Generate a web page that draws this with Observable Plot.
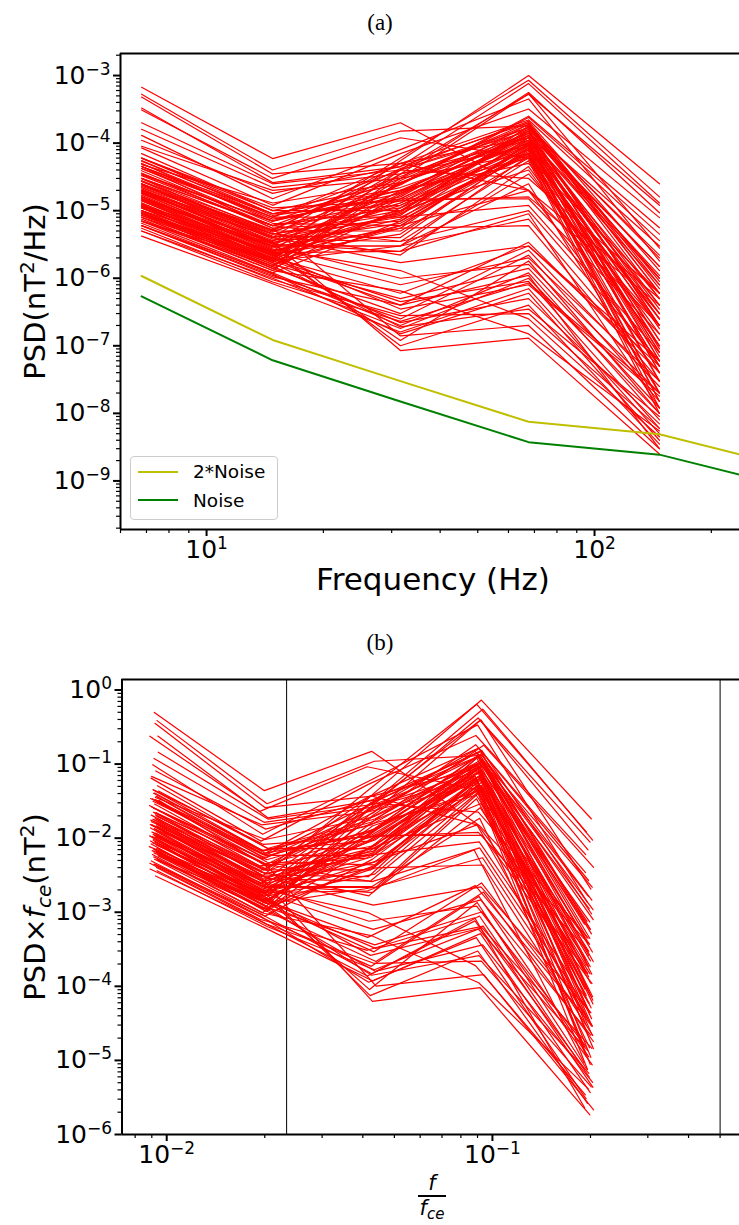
<!DOCTYPE html>
<html>
<head>
<meta charset="utf-8">
<script src="https://cdn.jsdelivr.net/npm/d3@7"></script>
<script src="https://cdn.jsdelivr.net/npm/@observablehq/plot@0.6"></script>
<style>
  html, body { margin: 0; padding: 0; background: #fff; }
  #wrap { position: relative; width: 739px; height: 1225px; overflow: hidden; background: #fff; font-family: "DejaVu Sans", sans-serif; }
  #wrap svg { position: absolute; left: 0; }
  .title { position: absolute; font-family: "Liberation Serif", "DejaVu Serif", serif; font-size: 23px; line-height: 1; transform: translate(-50%, -50%); white-space: nowrap; }
  .abs { position: absolute; white-space: nowrap; line-height: 1; }
</style>
</head>
<body>
<div id="wrap"></div>
<script>
// ---------------- data ----------------
// band centre frequencies (Hz)
const freqs = [6.8, 14.8, 31.6, 67.6, 147];
// noise floor (Noise); 2*Noise is twice it
const noiseFreqs = [6.8, 14.8, 31.6, 67.6, 147, 320];
const noise = [5.4e-7, 6.1e-8, 1.5e-8, 3.75e-9, 2.45e-9, 8.0e-10];

// PSD spectra (nT^2/Hz) at the five bands, one row per event
const spectraPeak31 = [
  [6.7e-4, 5.9e-5, 2.0e-4, 2.0e-5, 5.0e-7]
];
const spectraTop = [
  [1.1e-5, 2.5e-6, 5.5e-5, 1.0e-3, 2.5e-5],
  [2.0e-5, 4.0e-6, 6.0e-5, 8.5e-4, 1.6e-5],
  [3.3e-4, 2.6e-5, 4.5e-5, 7.6e-4, 1.3e-5],
  [1.5e-5, 3.0e-6, 3.5e-5, 5.6e-4, 9.3e-6],
  [4.5e-5, 8.0e-6, 4.0e-5, 5.3e-4, 1.2e-5],
  [8.5e-5, 1.2e-5, 7.0e-5, 3.2e-4, 7.9e-6],
  [9.0e-6, 2.0e-6, 2.5e-5, 2.5e-4, 5.6e-6],
  [2.4e-5, 5.0e-6, 5.0e-5, 2.2e-4, 3.6e-6],
  [3.0e-5, 6.0e-6, 3.0e-5, 5.4e-4, 2.8e-6],
  [1.3e-4, 1.5e-5, 8.0e-5, 4.5e-4, 1.8e-6]
];
const spectraUpper = [
  [5.3e-4, 4.0e-5, 1.5e-4, 1.8e-4, 2.0e-6],
  [4.8e-4, 3.5e-5, 5.0e-5, 1.2e-4, 1.0e-6],
  [3.1e-4, 3.0e-5, 1.2e-4, 6.0e-5, 6.0e-7],
  [2.0e-4, 2.5e-5, 4.0e-5, 1.5e-4, 1.5e-6],
  [1.6e-4, 2.2e-5, 3.5e-5, 9.0e-5, 4.0e-7],
  [1.1e-4, 1.8e-5, 4.5e-5, 2.0e-4, 8.0e-7],
  [9.0e-5, 2.0e-5, 3.0e-5, 7.0e-5, 2.5e-7],
  [7.0e-5, 1.0e-5, 2.5e-5, 1.6e-4, 3.0e-6],
  [6.0e-5, 9.0e-6, 2.0e-5, 1.3e-4, 1.2e-7],
  [5.5e-5, 8.5e-6, 1.5e-5, 1.1e-4, 5.0e-7],
  [5.0e-5, 7.0e-6, 1.8e-5, 1.9e-4, 7.0e-7],
  [4.5e-5, 9.0e-6, 1.2e-5, 8.0e-5, 2.0e-7],
  [6.0e-5, 1.0e-5, 1.0e-5, 1.4e-4, 3.0e-7],
  [5.4e-5, 9.0e-6, 2.2e-5, 1.0e-4, 8.0e-8],
  [5.0e-5, 8.0e-6, 8.0e-6, 6.5e-5, 1.5e-7],
  [4.5e-5, 7.5e-6, 1.6e-5, 1.7e-4, 1.0e-6],
  [4.2e-5, 6.5e-6, 6.0e-6, 9.5e-5, 4.0e-8],
  [3.9e-5, 6.0e-6, 1.4e-5, 1.2e-4, 6.0e-8],
  [3.6e-5, 5.5e-6, 7.0e-6, 7.5e-5, 2.0e-8],
  [3.3e-5, 6.0e-6, 1.1e-5, 1.5e-4, 9.0e-8],
  [3.0e-5, 5.0e-6, 5.0e-6, 6.0e-5, 3.0e-8],
  [2.8e-5, 4.5e-6, 9.0e-6, 1.1e-4, 2.5e-7],
  [2.7e-5, 4.2e-6, 4.0e-6, 8.5e-5, 1.5e-8],
  [2.5e-5, 4.0e-6, 1.3e-5, 1.3e-4, 4.0e-7],
  [2.4e-5, 3.8e-6, 3.5e-6, 5.5e-5, 1.0e-8],
  [2.2e-5, 3.6e-6, 8.5e-6, 1.8e-4, 6.0e-7],
  [2.1e-5, 3.4e-6, 6.5e-6, 7.0e-5, 5.0e-8],
  [2.0e-5, 3.2e-6, 1.2e-5, 9.0e-5, 1.2e-7],
  [1.9e-5, 3.0e-6, 3.0e-6, 6.5e-5, 2.0e-8],
  [1.8e-5, 2.8e-6, 7.5e-6, 1.2e-4, 3.5e-7],
  [1.7e-5, 2.6e-6, 5.5e-6, 1.0e-4, 7.0e-8],
  [1.6e-5, 2.5e-6, 9.5e-6, 1.6e-4, 2.0e-7],
  [1.5e-5, 2.3e-6, 4.5e-6, 8.0e-5, 3.0e-8],
  [1.45e-5, 2.2e-6, 2.6e-5, 1.4e-4, 1.5e-6],
  [1.4e-5, 2.1e-6, 3.0e-5, 2.0e-4, 9.0e-7],
  [1.3e-5, 2.0e-6, 1.8e-5, 1.0e-4, 1.0e-7],
  [1.25e-5, 1.9e-6, 4.0e-5, 1.7e-4, 5.0e-7],
  [1.2e-5, 1.8e-6, 2.0e-5, 6.0e-5, 1.2e-8],
  [1.1e-5, 1.7e-6, 1.5e-5, 1.3e-4, 4.0e-8],
  [1.0e-5, 1.6e-6, 6.0e-6, 9.0e-5, 8.0e-8],
  [9.5e-6, 1.5e-6, 3.5e-5, 1.1e-4, 2.5e-7],
  [9.0e-6, 1.4e-6, 1.1e-5, 7.0e-5, 1.5e-8],
  [8.0e-6, 1.3e-6, 2.8e-5, 1.9e-4, 6.0e-7],
  [7.0e-6, 1.5e-6, 1.7e-5, 1.5e-4, 2.0e-7],
  [6.0e-6, 1.2e-6, 7.0e-6, 8.5e-5, 6.0e-8],
  [2.3e-5, 4.8e-6, 2.4e-5, 2.4e-4, 4.5e-6],
  [1.9e-5, 3.3e-6, 1.9e-5, 1.4e-4, 1.1e-6],
  [3.4e-5, 7.0e-6, 3.2e-5, 1.7e-4, 2.2e-6],
  [1.6e-5, 2.9e-6, 1.3e-5, 9.5e-5, 3.0e-7],
  [4.8e-5, 1.3e-5, 2.6e-5, 1.2e-4, 8.0e-7],
  [1.15e-5, 2.4e-6, 9.0e-6, 6.8e-5, 5.0e-8],
  [2.7e-5, 5.2e-6, 4.2e-5, 2.1e-4, 1.3e-6],
  [8.5e-6, 1.9e-6, 1.0e-5, 1.05e-4, 1.8e-7]
];
const spectraMid = [
  [3.5e-5, 7.0e-6, 2.0e-5, 5.0e-5, 3.0e-7],
  [2.0e-5, 4.5e-6, 1.0e-5, 4.0e-5, 1.0e-7],
  [1.5e-5, 3.5e-6, 4.0e-5, 3.0e-5, 6.0e-7],
  [1.2e-5, 3.0e-6, 3.0e-6, 2.5e-5, 2.0e-8],
  [9.0e-6, 2.2e-6, 6.0e-6, 2.0e-5, 5.0e-8],
  [2.5e-5, 5.0e-6, 1.5e-5, 1.5e-5, 1.5e-7],
  [1.8e-5, 4.0e-6, 8.0e-6, 1.2e-5, 8.0e-8],
  [1.0e-5, 2.4e-6, 2.5e-6, 9.0e-6, 1.2e-8],
  [8.0e-6, 1.8e-6, 5.5e-6, 6.0e-6, 3.0e-8],
  [6.0e-5, 1.1e-5, 1.4e-5, 1.6e-5, 4.0e-7],
  [1.4e-5, 3.2e-6, 2.5e-6, 3.5e-5, 2.0e-7],
  [2.2e-5, 4.6e-6, 2.2e-6, 4.5e-5, 1.0e-7],
  [7.0e-6, 1.8e-6, 3.0e-6, 7.5e-6, 4.0e-8],
  [4.2e-5, 8.0e-6, 5.0e-5, 2.0e-5, 2.0e-7],
  [3.0e-5, 6.0e-6, 3.5e-6, 1.0e-5, 6.0e-8]
];
const spectraLow = [
  [1.0e-5, 1.8e-6, 4.0e-7, 3.4e-6, 4.0e-8],
  [1.2e-5, 2.0e-6, 6.0e-7, 3.0e-6, 5.0e-8],
  [8.0e-6, 1.4e-6, 3.0e-7, 2.6e-6, 2.5e-8],
  [6.0e-6, 1.1e-6, 2.5e-7, 2.2e-6, 1.5e-8],
  [1.5e-5, 2.4e-6, 8.0e-7, 2.0e-6, 3.0e-8],
  [2.0e-5, 3.0e-6, 1.0e-6, 1.6e-6, 2.0e-8],
  [9.0e-6, 1.6e-6, 5.0e-7, 1.4e-6, 1.2e-8],
  [7.0e-6, 1.2e-6, 2.0e-7, 1.2e-6, 8.0e-9],
  [5.0e-6, 1.0e-6, 1.8e-7, 1.0e-6, 1.0e-8],
  [1.1e-5, 1.9e-6, 4.5e-7, 9.0e-7, 6.0e-9],
  [1.3e-5, 2.2e-6, 3.5e-7, 8.0e-7, 1.8e-8],
  [4.2e-6, 8.3e-7, 1.6e-7, 7.0e-7, 5.0e-9],
  [6.5e-6, 1.15e-6, 1.5e-7, 6.0e-7, 4.0e-9],
  [8.5e-6, 1.5e-6, 2.2e-7, 5.0e-7, 7.0e-9],
  [1.6e-5, 2.6e-6, 1.0e-7, 4.0e-7, 3.5e-9],
  [2.5e-5, 3.4e-6, 8.5e-8, 1.3e-7, 2.5e-9],
  [5.5e-6, 9.5e-7, 2.8e-7, 3.0e-7, 6.0e-9],
  [1.8e-5, 2.7e-6, 1.3e-6, 2.5e-7, 4.5e-9],
  [4.5e-5, 5.5e-6, 1.4e-7, 2.0e-7, 3.0e-9],
  [7.5e-6, 1.3e-6, 6.5e-7, 1.5e-7, 5.5e-9],
  [3.0e-5, 4.0e-6, 1.7e-6, 3.0e-6, 6.0e-8],
  [1.4e-5, 2.3e-6, 1.2e-7, 1.8e-6, 1.0e-8],
  [5.0e-6, 8.8e-7, 2.3e-7, 8.5e-7, 2.0e-8],
  [9.5e-6, 1.7e-6, 1.9e-7, 3.5e-7, 9.0e-9],
  [6.0e-6, 1.05e-6, 4.0e-7, 1.1e-6, 3.0e-9]
];
// electron cyclotron frequency (Hz) of each event, same order as the spectra
const fce = [
  742, 731, 756, 724, 748, 737, 760, 719, 745, 733, 751, 728,
  739, 766, 722, 744, 735, 757, 726, 749, 740, 730, 762, 721,
  746, 734, 753, 727, 741, 768, 723, 747, 736, 758, 725, 750,
  738, 729, 764, 720, 743, 732, 755, 726, 741, 767, 724, 748,
  736, 759, 722, 745, 733, 752, 728, 739, 761, 721, 746, 735,
  737, 752, 729, 744, 758, 733, 747, 740,
  754, 727, 742, 769, 723, 747, 737, 757, 725, 749, 740, 730,
  763, 720, 744, 734, 756, 726, 741, 765, 722, 748, 736, 758,
  724, 750, 738, 731, 762, 719, 745, 733, 753, 728, 743, 766
];
// vertical reference lines in panel (b): f_LH/f_ce and 0.5
const bandEdges = [0.02334, 0.5];

// axis ticks
const majorXA = [10, 100];
const majorYA = [1e-9, 1e-8, 1e-7, 1e-6, 1e-5, 1e-4, 1e-3];
const majorXB = [0.01, 0.1];
const majorYB = [1e-6, 1e-5, 1e-4, 1e-3, 1e-2, 1e-1, 1];
const xDomA = [6.0, 236.4], yDomA = [1.91e-10, 2.12e-3];
const xDomB = [0.00729, 0.5735], yDomB = [1e-6, 1.385];

// ---------------- build ----------------
const spectra = [...spectraPeak31, ...spectraTop, ...spectraUpper, ...spectraMid, ...spectraLow];
const rowsA = spectra.flatMap((s, i) => s.map((v, j) => ({id: i, f: freqs[j], psd: v})));
const rowsB = spectra.flatMap((s, i) => s.map((v, j) => ({id: i, x: freqs[j] / fce[i], y: v * fce[i]})));
const noiseRows = noiseFreqs.map((f, j) => ({f, v: noise[j]}));
const noise2Rows = noiseFreqs.map((f, j) => ({f, v: 2 * noise[j]}));

function minors(dom) {
  const out = [];
  for (let e = Math.floor(Math.log10(dom[0])) - 1; e <= Math.ceil(Math.log10(dom[1])); e++)
    for (let k = 2; k <= 9; k++) { const t = k * Math.pow(10, e); if (t >= dom[0] * 0.999 && t <= dom[1]) out.push(t); }
  return out;
}
const fmt = d => "10^" + Math.round(Math.log10(d));

function axes(xd, yd, mx, my) {
  return [
    Plot.ruleX([xd[0]], {stroke: "black", strokeWidth: 2}),
    Plot.ruleY([yd[0]], {stroke: "black", strokeWidth: 2}),
    Plot.ruleY([yd[1]], {stroke: "black", strokeWidth: 2}),
    Plot.axisY({ticks: minors(yd), tickSize: 4, tickFormat: () => "", strokeWidth: 1.2, label: null}),
    Plot.axisY({ticks: my, tickSize: 7, tickPadding: 3, tickFormat: fmt, strokeWidth: 2, fontSize: 25, label: null}),
    Plot.axisX({ticks: minors(xd), tickSize: 4, tickFormat: () => "", strokeWidth: 1.2, label: null}),
    Plot.axisX({ticks: mx, tickSize: 7, tickPadding: 4, tickFormat: fmt, strokeWidth: 2, fontSize: 25, label: null})
  ];
}
const style = {fontFamily: '"DejaVu Sans", sans-serif', fontSize: "25px", color: "black", background: "transparent", overflow: "hidden"};

const chartA = Plot.plot({
  width: 739, height: 610,
  marginLeft: 120, marginRight: 0, marginTop: 53, marginBottom: 81,
  style,
  x: {type: "log", domain: xDomA, label: null},
  y: {type: "log", domain: yDomA, label: null},
  marks: [
    Plot.line(rowsA, {x: "f", y: "psd", z: "id", stroke: "red", strokeWidth: 1.2, clip: true}),
    Plot.line(noise2Rows, {x: "f", y: "v", stroke: "#bfbf00", strokeWidth: 2, clip: true}),
    Plot.line(noiseRows, {x: "f", y: "v", stroke: "#008000", strokeWidth: 2, clip: true}),
    ...axes(xDomA, yDomA, majorXA, majorYA),
    Plot.text(["PSD(nT2/Hz)"], {frameAnchor: "left", textAnchor: "middle", lineAnchor: "middle", rotate: -90, dx: -85, fontSize: 29}),
    Plot.text(["Frequency (Hz)"], {frameAnchor: "bottom", textAnchor: "middle", lineAnchor: "middle", dy: 51, dx: 3, fontSize: 31})
  ]
});

const chartB = Plot.plot({
  width: 739, height: 615,
  marginLeft: 121.5, marginRight: 0, marginTop: 69, marginBottom: 91,
  style,
  x: {type: "log", domain: xDomB, label: null},
  y: {type: "log", domain: yDomB, label: null},
  marks: [
    Plot.ruleX(bandEdges, {stroke: "black", strokeWidth: 1}),
    Plot.line(rowsB, {x: "x", y: "y", z: "id", stroke: "red", strokeWidth: 1.2, clip: true}),
    ...axes(xDomB, yDomB, majorXB, majorYB),
    Plot.text(["PSDxfce(nT2)"], {frameAnchor: "left", textAnchor: "middle", lineAnchor: "middle", rotate: -90, dx: -86, fontSize: 29})
  ]
});

const NS = "http://www.w3.org/2000/svg";
function tspan(parent, txt, attrs) {
  const t = document.createElementNS(NS, "tspan");
  for (const k in attrs) t.setAttribute(k, attrs[k]);
  t.textContent = txt;
  parent.appendChild(t);
  return t;
}
function richify(svg) {
  svg.querySelectorAll("text").forEach(t => {
    const s = t.textContent;
    const m = /^10\^(-?\d+)$/.exec(s);
    if (m) {
      t.textContent = "10";
      tspan(t, m[1].replace("-", "\u2212"), {"font-size": 17, dy: -9});
    } else if (s === "PSD(nT2/Hz)") {
      t.textContent = "PSD(nT";
      tspan(t, "2", {"font-size": 20, dy: -11});
      tspan(t, "/Hz)", {"font-size": 29, dy: 11});
    } else if (s === "PSDxfce(nT2)") {
      t.textContent = "PSD\u00d7";
      tspan(t, "f", {"font-style": "italic"});
      tspan(t, "ce", {"font-size": 20, "font-style": "italic", dy: 6});
      tspan(t, "(nT", {"font-size": 29, dy: -6});
      tspan(t, "2", {"font-size": 20, dy: -11});
      tspan(t, ")", {"font-size": 29, dy: 11});
    }
  });
}
richify(chartA);
richify(chartB);

const wrap = document.getElementById("wrap");
chartA.style.top = "0px";
chartB.style.top = "610px";
wrap.appendChild(chartA);
wrap.appendChild(chartB);

function addDiv(html, css, cls) {
  const d = document.createElement("div");
  d.className = cls || "abs";
  d.innerHTML = html;
  Object.assign(d.style, css);
  wrap.appendChild(d);
  return d;
}
// panel titles
addDiv("(a)", {left: "380px", top: "21.5px"}, "title");
addDiv("(b)", {left: "380px", top: "642px"}, "title");

// legend
addDiv("", {left: "130px", top: "456px", width: "146px", height: "62px", border: "1px solid #cccccc", borderRadius: "4px", background: "rgba(255,255,255,0.8)"});
addDiv("", {left: "138px", top: "470.7px", width: "40px", height: "2px", background: "#bfbf00"});
addDiv("", {left: "138px", top: "499px", width: "40px", height: "2px", background: "#008000"});
addDiv("2*Noise", {left: "193px", top: "463px", fontSize: "18.5px"});
addDiv("Noise", {left: "193px", top: "491.5px", fontSize: "18.5px"});

// x label of panel (b): f / f_ce
addDiv('<i>f</i>', {left: "432px", top: "1173px", fontSize: "21px", transform: "translateX(-50%)"});
addDiv("", {left: "418px", top: "1195px", width: "28px", height: "2px", background: "#000"});
addDiv('<i>f</i><i style="font-size:15px;position:relative;top:4px">ce</i>', {left: "432px", top: "1198px", fontSize: "21px", transform: "translateX(-50%)"});
</script>
</body>
</html>
